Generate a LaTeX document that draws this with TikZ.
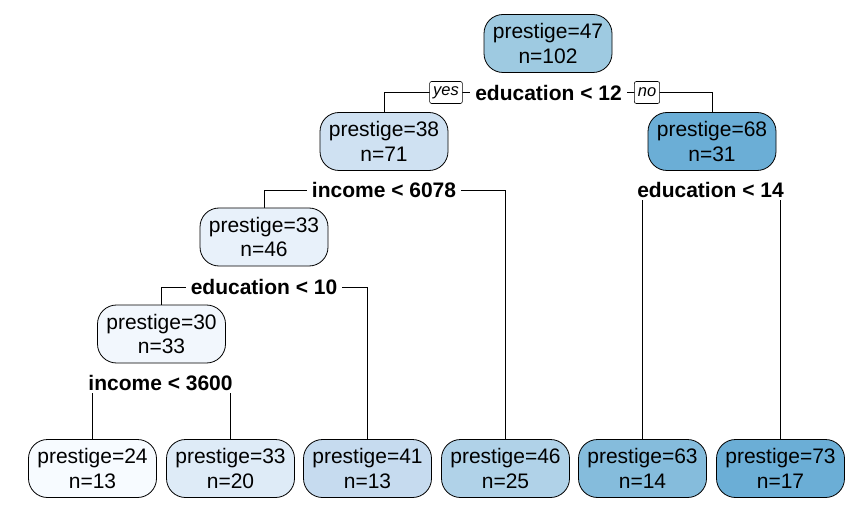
\documentclass[tikz,border=0pt]{standalone}
\usepackage{fontspec}
\setmainfont{Liberation Sans}
\usetikzlibrary{backgrounds}
\definecolor{cA}{RGB}{158,202,225}
\definecolor{cB}{RGB}{207,225,242}
\definecolor{cC}{RGB}{107,174,214}
\definecolor{cD}{RGB}{232,241,250}
\definecolor{cE}{RGB}{242,247,253}
\definecolor{cF}{RGB}{247,251,255}
\definecolor{cG}{RGB}{222,235,247}
\definecolor{cH}{RGB}{198,219,239}
\definecolor{cI}{RGB}{176,210,232}
\definecolor{cJ}{RGB}{133,188,220}
\definecolor{cK}{RGB}{107,174,214}
\begin{document}
\begin{tikzpicture}[x=1pt,y=-1pt,
  tnode/.style={draw=black, line width=0.8pt, rounded corners=19pt, minimum width=128pt, minimum height=58pt, align=center, font=\fontsize{21}{24.5}\selectfont, inner sep=0pt},
  splitlab/.style={fill=white, font=\fontsize{21}{24}\selectfont\bfseries, inner xsep=5pt, inner ysep=2pt},
  yn/.style={draw=black, fill=white, line width=0.6pt, rounded corners=2pt, font=\fontsize{16.5}{18}\selectfont\itshape, inner xsep=3.5pt, inner ysep=0pt, minimum height=22pt},
  edgeline/.style={draw=black, line width=0.8pt}]
\useasboundingbox (0,0) rectangle (856,521);

% tree nodes
\node[tnode, fill=cA] (r)   at (548,43.5)  {prestige=47\\n=102};
\node[tnode, fill=cB] (n38) at (384,141.5) {prestige=38\\n=71};
\node[tnode, fill=cC] (n68) at (712,141.5) {prestige=68\\n=31};
\node[tnode, fill=cD] (n33a) at (264,237) {prestige=33\\n=46};
\node[tnode, fill=cE] (n30) at (161.5,334) {prestige=30\\n=33};
\node[tnode, fill=cF] (l24) at (92.5,468.5) {prestige=24\\n=13};
\node[tnode, fill=cG] (l33) at (230.5,468.5) {prestige=33\\n=20};
\node[tnode, fill=cH] (l41) at (367.5,468.5) {prestige=41\\n=13};
\node[tnode, fill=cI] (l46) at (505.5,468.5) {prestige=46\\n=25};
\node[tnode, fill=cJ] (l63) at (642.5,468.5) {prestige=63\\n=14};
\node[tnode, fill=cK] (l73) at (780.5,468.5) {prestige=73\\n=17};

% split labels
\node[splitlab] (s1) at (548.5,92.5) {education < 12};
\node[yn] (yes) at (446,92.5) {yes};
\node[yn] (no) at (647,92.5) {no};
\node[splitlab] (s2) at (384,190) {income < 6078};
\node[splitlab] (s3) at (710.5,190) {education < 14};
\node[splitlab] (s4) at (264,287) {education < 10};
\node[splitlab] (s5) at (160.5,383) {income < 3600};

\begin{pgfonlayer}{background}
\fill[white] (0,0) rectangle (856,521);
\draw[edgeline] (n38.north) |- (s1.center) -| (n68.north);
\draw[edgeline] (n33a.north) |- (s2.center) -| (l46.north);
\draw[edgeline] (l63.north) |- (s3.center) -| (l73.north);
\draw[edgeline] (n30.north) |- (s4.center) -| (l41.north);
\draw[edgeline] (l24.north) |- (s5.center) -| (l33.north);
\end{pgfonlayer}
\end{tikzpicture}
\end{document}
